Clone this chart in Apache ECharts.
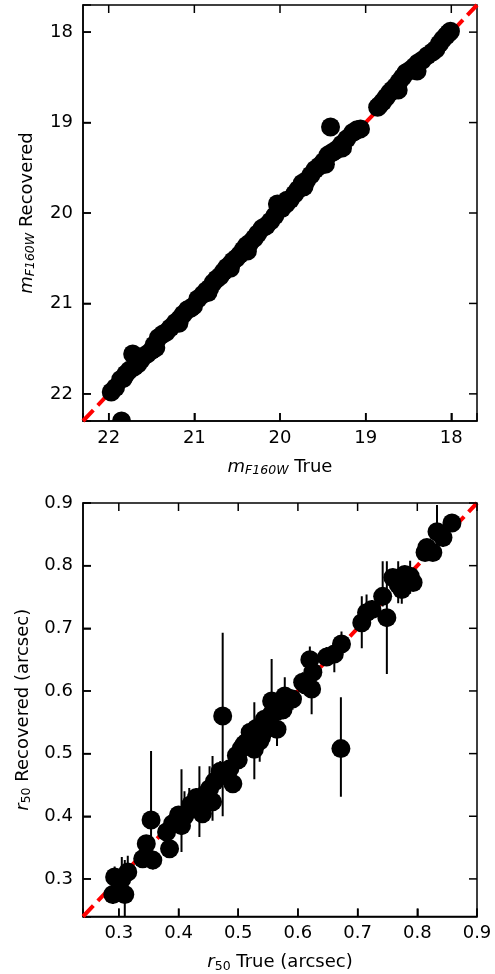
<!DOCTYPE html>
<html><head><meta charset="utf-8">
<script src="https://cdn.jsdelivr.net/npm/echarts@6/dist/echarts.min.js"></script>
<style>html,body{margin:0;padding:0;background:#fff}#c{width:495px;height:974px}</style>
</head><body><div id="c"></div>
<script>
// ---- top panel: magnitudes ----
const magTicks = [18, 19, 20, 21, 22];
const magRange = [17.7, 22.3];
const magLine = [22.3, 17.7];
const magTrue = [21.97,21.92,21.86,21.83,21.80,21.76,21.72,21.70,21.66,21.62,21.55,21.50,21.47,21.42,21.37,21.33,21.28,21.22,21.17,21.13,21.08,21.04,21.01,20.96,20.90,20.86,20.82,20.78,20.74,20.70,20.66,20.62,20.58,20.55,20.51,20.47,20.43,20.39,20.35,20.30,20.26,20.21,20.16,20.11,20.06,20.03,19.98,19.93,19.88,19.83,19.79,19.74,19.69,19.64,19.59,19.54,19.49,19.44,19.39,19.34,19.28,19.22,19.15,19.10,19.06,19.41,18.86,18.84,18.80,18.76,18.72,18.69,18.65,18.61,18.57,18.53,18.48,18.43,18.39,18.34,18.28,18.22,18.18,18.14,18.10,18.06,18.03,18.01,21.85,21.45,21.18,20.84,20.58,20.38,19.92,19.72,19.47,19.27,18.62,18.40];
const magRec  = [21.98,21.93,21.84,21.83,21.78,21.74,21.56,21.70,21.67,21.62,21.56,21.52,21.46,21.38,21.34,21.32,21.27,21.21,21.17,21.12,21.07,21.05,21.03,20.95,20.90,20.86,20.83,20.77,20.73,20.70,20.65,20.60,20.57,20.53,20.50,20.46,20.41,20.36,20.33,20.28,20.23,20.17,20.14,20.09,20.03,19.90,19.95,19.90,19.85,19.79,19.74,19.67,19.64,19.58,19.52,19.48,19.43,19.36,19.33,19.30,19.24,19.18,19.11,19.08,19.07,19.05,18.83,18.81,18.77,18.72,18.67,18.64,18.60,18.55,18.50,18.45,18.42,18.38,18.34,18.31,18.26,18.22,18.19,18.13,18.08,18.04,18.01,17.99,22.30,21.49,21.22,20.88,20.61,20.42,19.86,19.71,19.46,19.28,18.64,18.43];

// ---- bottom panel: r50 ----
const rTicks = [0.3, 0.4, 0.5, 0.6, 0.7, 0.8, 0.9];
const rRange = [0.24, 0.9];
const rLine = [0.24, 0.9];
const rTrue  = [0.290,0.310,0.293,0.315,0.305,0.340,0.346,0.354,0.357,0.385,0.380,0.396,0.405,0.410,0.418,0.435,0.440,0.430,0.445,0.452,0.457,0.460,0.469,0.474,0.491,0.486,0.497,0.500,0.514,0.520,0.527,0.530,0.536,0.539,0.544,0.550,0.556,0.565,0.566,0.575,0.578,0.591,0.608,0.620,0.623,0.625,0.648,0.661,0.673,0.672,0.707,0.715,0.724,0.742,0.749,0.759,0.768,0.774,0.779,0.788,0.793,0.813,0.816,0.826,0.833,0.843,0.858,0.390,0.400,0.420,0.425,0.470,0.480,0.505,0.510,0.525,0.545,0.555,0.560,0.570,0.585,0.612];
const rRec   = [0.275,0.275,0.303,0.311,0.300,0.332,0.356,0.394,0.330,0.348,0.375,0.391,0.385,0.400,0.410,0.416,0.404,0.430,0.435,0.444,0.423,0.455,0.464,0.560,0.452,0.476,0.497,0.490,0.518,0.534,0.507,0.540,0.520,0.526,0.555,0.550,0.584,0.539,0.568,0.570,0.592,0.587,0.614,0.650,0.603,0.630,0.654,0.659,0.675,0.508,0.709,0.725,0.730,0.751,0.717,0.781,0.770,0.762,0.786,0.783,0.773,0.821,0.829,0.821,0.854,0.845,0.868,0.388,0.402,0.418,0.412,0.472,0.466,0.508,0.515,0.522,0.538,0.562,0.575,0.580,0.588,0.610];
const rErrLo = [0.260,0.220,0.290,0.290,0.280,0.320,0.340,0.365,0.315,0.335,0.360,0.375,0.343,0.385,0.400,0.367,0.390,0.415,0.420,0.430,0.393,0.440,0.450,0.400,0.440,0.460,0.480,0.475,0.500,0.520,0.459,0.525,0.487,0.510,0.540,0.535,0.550,0.512,0.550,0.555,0.563,0.570,0.600,0.630,0.563,0.610,0.640,0.630,0.660,0.431,0.668,0.710,0.715,0.735,0.627,0.770,0.740,0.739,0.770,0.755,0.760,0.810,0.815,0.810,0.840,0.830,0.855,0.375,0.390,0.405,0.400,0.455,0.450,0.495,0.500,0.505,0.520,0.545,0.560,0.565,0.575,0.595];
const rErrHi = [0.290,0.330,0.320,0.337,0.335,0.345,0.370,0.504,0.345,0.360,0.390,0.405,0.475,0.440,0.445,0.480,0.420,0.445,0.450,0.480,0.496,0.470,0.480,0.693,0.470,0.490,0.510,0.505,0.530,0.550,0.582,0.555,0.535,0.540,0.570,0.565,0.651,0.560,0.580,0.585,0.622,0.600,0.630,0.671,0.620,0.645,0.670,0.675,0.695,0.590,0.751,0.754,0.745,0.807,0.807,0.795,0.807,0.780,0.800,0.808,0.790,0.835,0.840,0.835,0.897,0.860,0.880,0.400,0.415,0.432,0.425,0.488,0.480,0.522,0.530,0.540,0.555,0.578,0.590,0.595,0.600,0.625];

const FONT = 'DejaVu Sans';
const BLACK = '#000';
const TICK_LEN = 8;

function dotItem(params, api) {
  const p = api.coord([api.value(0), api.value(1)]);
  return { type: 'circle', shape: { cx: p[0], cy: p[1], r: 9.5 }, style: { fill: BLACK } };
}
function barItem(params, api) {
  const x = api.value(0);
  const a = api.coord([x, api.value(2)]);
  const b = api.coord([x, api.value(3)]);
  return { type: 'line', shape: { x1: a[0], y1: a[1], x2: b[0], y2: b[1] }, style: { stroke: BLACK, lineWidth: 2 } };
}

const richName = {
  i: { fontFamily: FONT, fontSize: 18, fontStyle: 'italic', color: BLACK, lineHeight: 22 },
  n: { fontFamily: FONT, fontSize: 18, color: BLACK, lineHeight: 22 },
  si: { fontFamily: FONT, fontSize: 12.5, fontStyle: 'italic', color: BLACK, lineHeight: 14, padding: [8, 0, 0, 0] },
  s: { fontFamily: FONT, fontSize: 12.5, color: BLACK, lineHeight: 14, padding: [8, 0, 0, 0] }
};

function onTick(v, ticks) { return ticks.some(t => Math.abs(t - v) < 1e-6); }

function mkAxis(opts) {
  const { gridIndex, range, ticks, inverse, name, nameGap, isY, fmt, split } = opts;
  return {
    type: 'value', gridIndex, min: range[0], max: range[1], inverse,
    splitNumber: split,
    name, nameLocation: 'middle', nameGap,
    nameTextStyle: { rich: richName, fontFamily: FONT, fontSize: 18, color: BLACK },
    axisLine: { show: true, onZero: false, lineStyle: { color: BLACK, width: 1.5 } },
    axisTick: { show: true, inside: true, length: TICK_LEN, lineStyle: { color: BLACK, width: 1.5 } },
    axisLabel: { show: true, margin: isY ? 10 : 8, hideOverlap: false,
      fontFamily: FONT, fontSize: 18, color: BLACK, lineHeight: 18,
      formatter: v => onTick(v, ticks) ? fmt(v) : '' },
    splitLine: { show: false }
  };
}
const magFmt = v => String(Math.round(v));
const rFmt = v => v.toFixed(1);

const chart = echarts.init(document.getElementById('c'), null, { renderer: 'canvas' });
chart.setOption({
  animation: false,
  grid: [
    { left: 83, top: 5, width: 394, height: 416, show: true, borderColor: BLACK, borderWidth: 1.5, backgroundColor: 'transparent' },
    { left: 83, top: 503, width: 394, height: 414, show: true, borderColor: BLACK, borderWidth: 1.5, backgroundColor: 'transparent' }
  ],
  xAxis: [
    mkAxis({ gridIndex: 0, range: magRange, ticks: magTicks, inverse: true, name: '{i|m}{si|F160W} {n|True}', nameGap: 35, fmt: magFmt, split: 5 }),
    mkAxis({ gridIndex: 1, range: rRange, ticks: rTicks, inverse: false, name: '{i|r}{s|50} {n|True (arcsec)}', nameGap: 35, fmt: rFmt, split: 7 })
  ],
  yAxis: [
    mkAxis({ gridIndex: 0, range: magRange, ticks: magTicks, inverse: true, name: '{i|m}{si|F160W} {n|Recovered}', nameGap: 45, isY: true, fmt: magFmt, split: 5 }),
    mkAxis({ gridIndex: 1, range: rRange, ticks: rTicks, inverse: false, name: '{i|r}{s|50} {n|Recovered (arcsec)}', nameGap: 45, isY: true, fmt: rFmt, split: 7 })
  ],
  series: [
    { type: 'line', xAxisIndex: 0, yAxisIndex: 0, data: magLine.map(v => [v, v]), symbol: 'none', clip: true,
      lineStyle: { color: '#ff0000', width: 4, type: [15, 6.5], cap: 'butt' }, silent: true, z: 1 },
    { type: 'line', xAxisIndex: 1, yAxisIndex: 1, data: rLine.map(v => [v, v]), symbol: 'none', clip: true,
      lineStyle: { color: '#ff0000', width: 4, type: [15, 6.5], cap: 'butt' }, silent: true, z: 1 },
    { type: 'custom', xAxisIndex: 0, yAxisIndex: 0, clip: true, renderItem: dotItem, z: 3,
      encode: { x: 0, y: 1 }, data: magTrue.map((v, i) => [v, magRec[i]]) },
    { type: 'custom', xAxisIndex: 1, yAxisIndex: 1, clip: true, renderItem: barItem, z: 2,
      encode: { x: 0, y: [2, 3] }, data: rTrue.map((v, i) => [v, rRec[i], rErrLo[i], rErrHi[i]]) },
    { type: 'custom', xAxisIndex: 1, yAxisIndex: 1, clip: true, renderItem: dotItem, z: 3,
      encode: { x: 0, y: 1 }, data: rTrue.map((v, i) => [v, rRec[i]]) }
  ]
});

// inward ticks on all four borders, placed through the library's own axis scales
try {
  const els = [];
  const seg = (x1, y1, x2, y2) => ({ type: 'line', silent: true, z: 100,
    shape: { x1, y1, x2, y2 }, style: { stroke: BLACK, lineWidth: 1.5 } });
  const addTicks = (gi, xr, yr, xt, yt) => {
    const px = v => chart.convertToPixel({ gridIndex: gi }, v);
    xt.forEach(t => {
      const a = px([t, yr[0]]), b = px([t, yr[1]]);
      const top = a[1] < b[1] ? a : b, bot = a[1] < b[1] ? b : a;
      els.push(seg(top[0], top[1], top[0], top[1] + TICK_LEN));
      els.push(seg(bot[0], bot[1], bot[0], bot[1] - TICK_LEN));
    });
    yt.forEach(t => {
      const a = px([xr[0], t]), b = px([xr[1], t]);
      const lft = a[0] < b[0] ? a : b, rgt = a[0] < b[0] ? b : a;
      els.push(seg(lft[0], lft[1], lft[0] + TICK_LEN, lft[1]));
      els.push(seg(rgt[0], rgt[1], rgt[0] - TICK_LEN, rgt[1]));
    });
  };
  addTicks(0, magRange, magRange, magTicks, magTicks);
  addTicks(1, rRange, rRange, rTicks, rTicks);
  chart.setOption({ graphic: { elements: els } });
} catch (e) { console.error(e); }
</script>
</body></html>
